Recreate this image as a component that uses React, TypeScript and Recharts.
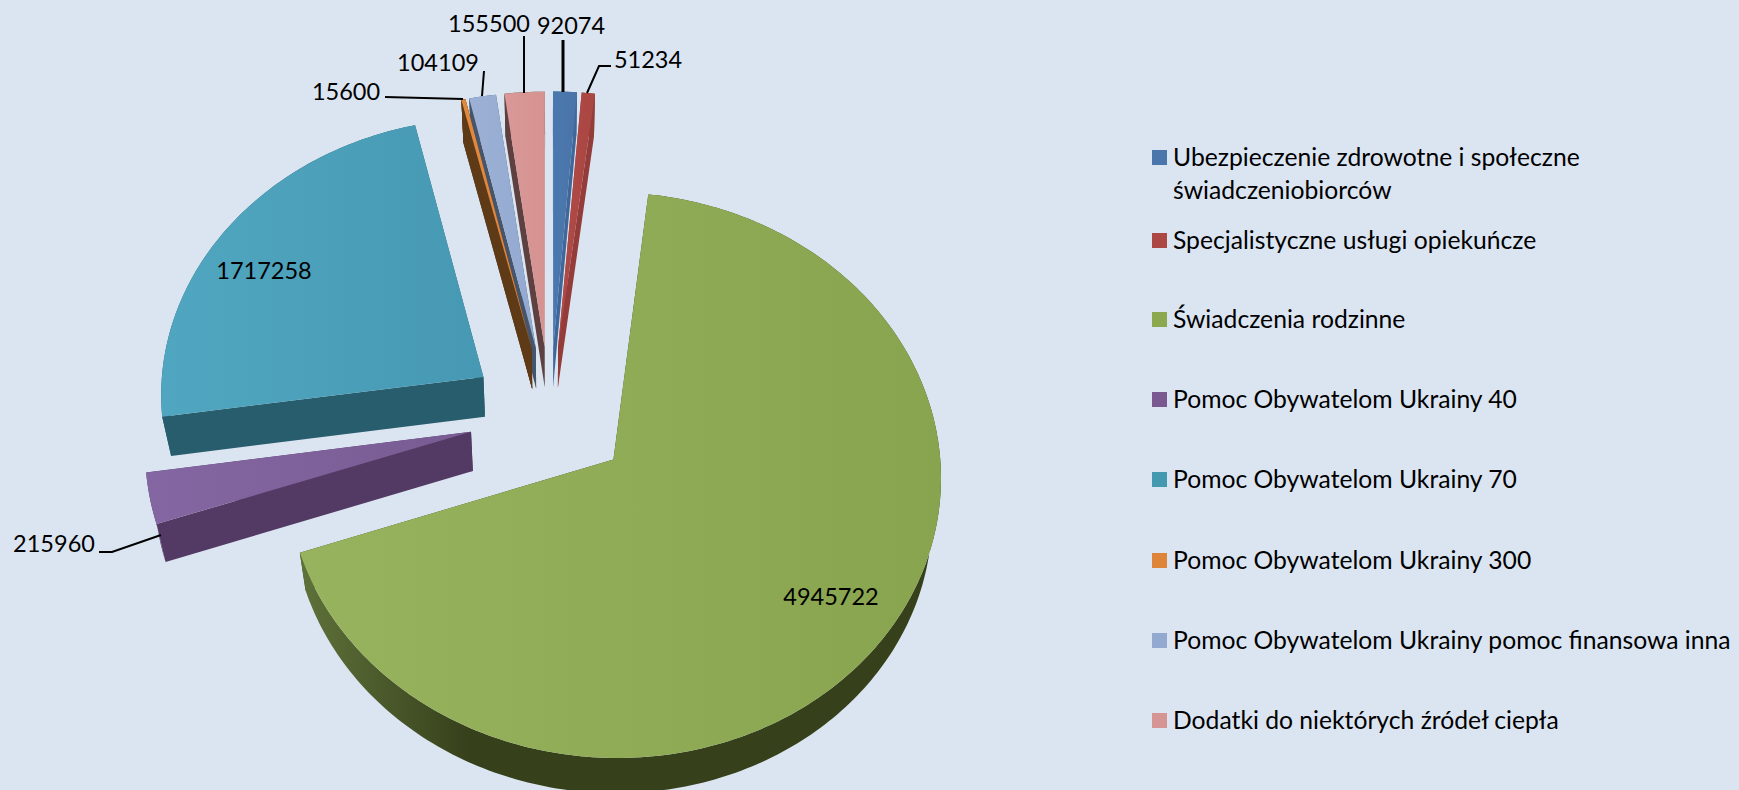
import { Legend, Pie, PieChart } from "recharts"

const names = [
  "Ubezpieczenie zdrowotne i społeczne świadczeniobiorców",
  "Specjalistyczne usługi opiekuńcze",
  "Świadczenia rodzinne",
  "Pomoc Obywatelom Ukrainy 40",
  "Pomoc Obywatelom Ukrainy 70",
  "Pomoc Obywatelom Ukrainy 300",
  "Pomoc Obywatelom Ukrainy pomoc finansowa inna",
  "Dodatki do niektórych źródeł ciepła",
]
const values = [92074, 51234, 4945722, 215960, 1717258, 15600, 104109, 155500]

const legendColors = ["#4A76AB", "#AD4744", "#8DA94F", "#79598F", "#4498B0", "#DE8539", "#94A9D0", "#D59593"]
const topLight = ["#4A78AE", "#B04A46", "#98B35D", "#8467A2", "#50A6C0", "#E08A40", "#9DB1D6", "#D99897"]
const topDark = ["#4A74A8", "#AA4643", "#89A44E", "#795B93", "#4799B3", "#DB843D", "#93A9CF", "#D59291"]
const wallLight = ["#41679A", "#933C39", "#5F723A", "#523A64", "#285D6D", "#5E3A17", "#46556B", "#5E4040"]
const wallDark = ["#41679A", "#933C39", "#36401B", "#523A64", "#285D6D", "#5E3A17", "#46556B", "#5E4040"]

const chartData = names.map((name, i) => ({ name, value: values[i], fill: legendColors[i] }))

// label placement, same order as values
const labelSpots = [
  { x: 571, y: 25, line: "563,40 563,92", width: 3 },
  { x: 648, y: 59, line: "611,66 599,66 587,93", width: 2 },
  { x: 831, y: 596, line: "", width: 0 },
  { x: 54, y: 543, line: "99,552 112,552 161,535", width: 2 },
  { x: 264, y: 270, line: "", width: 0 },
  { x: 346, y: 91, line: "385,97 463,99", width: 2 },
  { x: 438, y: 62, line: "484,71 482,96", width: 2 },
  { x: 489, y: 23, line: "524,36 524,93", width: 2 },
]
const legendTops = [141, 224, 303, 383, 463, 544, 624, 704]

// the orange sliver sits in front of its neighbour's wall
const FRONT_SLICE = 5

// flattened 3D look of the original: tilt, perspective and explosion
const TILT = 0.855
const PERSPECTIVE = 0.055
const EXPLODE = 0.25

const rad = (deg: number) => (deg * Math.PI) / 180

function PieSlice3D(props: any) {
  const { cx, cy, outerRadius, startAngle, endAngle, midAngle, index } = props
  const offU = EXPLODE * Math.cos(rad(midAngle))
  const offV = -EXPLODE * Math.sin(rad(midAngle))

  const project = (u: number, v: number): [number, number] => {
    const U = offU + u
    const V = offV + v
    const w = 1 - PERSPECTIVE * V
    return [cx + (outerRadius * U) / w, cy + (outerRadius * TILT * V) / w]
  }
  const drop = ([x, y]: [number, number]): [number, number] => [cx + (x - cx) * 0.977, y * 0.988 + 44.3]

  const steps = Math.max(2, Math.ceil(Math.abs(endAngle - startAngle)))
  const arc: [number, number][] = []
  for (let s = 0; s <= steps; s++) {
    const a = rad(startAngle + ((endAngle - startAngle) * s) / steps)
    arc.push(project(Math.cos(a), -Math.sin(a)))
  }
  const apex = project(0, 0)
  const toPath = (pts: [number, number][]) =>
    "M" + pts.map((p) => p[0].toFixed(2) + "," + p[1].toFixed(2)).join("L") + "Z"

  const first = arc[0]
  const last = arc[arc.length - 1]
  const wallGrad = "wall-" + index
  const topGrad = "top-" + index

  return (
    <g>
      <defs>
        <linearGradient id={wallGrad} gradientUnits="userSpaceOnUse" x1={300} y1={0} x2={470} y2={0}>
          <stop offset="0" stopColor={wallLight[index]} />
          <stop offset="1" stopColor={wallDark[index]} />
        </linearGradient>
        <linearGradient id={topGrad} x1="0" y1="0" x2="1" y2="0">
          <stop offset="0" stopColor={topLight[index]} />
          <stop offset="1" stopColor={topDark[index]} />
        </linearGradient>
      </defs>
      <path d={toPath([apex, first, drop(first), drop(apex)])} fill={wallDark[index]} />
      <path d={toPath([apex, last, drop(last), drop(apex)])} fill={wallDark[index]} />
      <path d={toPath([...arc, ...arc.map(drop).reverse()])} fill={`url(#${wallGrad})`} />
      <path d={toPath([apex, ...arc])} fill={`url(#${topGrad})`} />
    </g>
  )
}

function FrontSlice(props: any) {
  if (props.index !== FRONT_SLICE) return <g />
  return <PieSlice3D {...props} />
}

function renderLabel(props: any) {
  const spot = labelSpots[props.index]
  return (
    <g key={props.index}>
      {spot.line && <polyline points={spot.line} fill="none" stroke="#000" strokeWidth={spot.width} />}
      <text
        x={spot.x}
        y={spot.y}
        textAnchor="middle"
        dominantBaseline="central"
        fontFamily="Lato"
        fontSize={23.5}
        fill="#000"
      >
        {props.value}
      </text>
    </g>
  )
}

function renderLegend({ payload }: any) {
  // the overlay pie repeats the entries, keep the first set only
  const items = (payload || []).slice(0, names.length)
  return (
    <div style={{ position: "relative", fontFamily: "Lato", fontSize: 24.7, lineHeight: "32.5px", color: "#000" }}>
      {items.map((entry: any, i: number) => (
        <div key={entry.value} style={{ position: "absolute", left: 0, top: legendTops[i], width: 587 }}>
          <span
            style={{ position: "absolute", left: 0, top: 9, width: 15, height: 15, background: entry.color }}
          />
          <div style={{ marginLeft: 21 }}>{entry.value}</div>
        </div>
      ))}
    </div>
  )
}

export default function App() {
  return (
    <div style={{ position: "absolute", left: 0, top: 0, width: 1739, height: 790, overflow: "hidden", background: "#DBE5F1" }}>
      <PieChart width={1739} height={790} margin={{ top: 0, right: 0, bottom: 0, left: 0 }}>
        <Legend
          layout="vertical"
          align="right"
          verticalAlign="middle"
          itemSorter={null}
          content={renderLegend}
          wrapperStyle={{ position: "absolute", left: 1152, top: 0, width: 587, height: 0 }}
        />
        <Pie
          data={chartData}
          dataKey="value"
          nameKey="name"
          cx={550}
          cy={415.5}
          outerRadius={324}
          startAngle={90}
          endAngle={-270}
          stroke="none"
          shape={PieSlice3D}
          label={renderLabel}
          labelLine={false}
          isAnimationActive={false}
        />
        <Pie
          data={chartData}
          dataKey="value"
          nameKey="name"
          cx={550}
          cy={415.5}
          outerRadius={324}
          startAngle={90}
          endAngle={-270}
          stroke="none"
          shape={FrontSlice}
          legendType="none"
          isAnimationActive={false}
        />
      </PieChart>
    </div>
  )
}
